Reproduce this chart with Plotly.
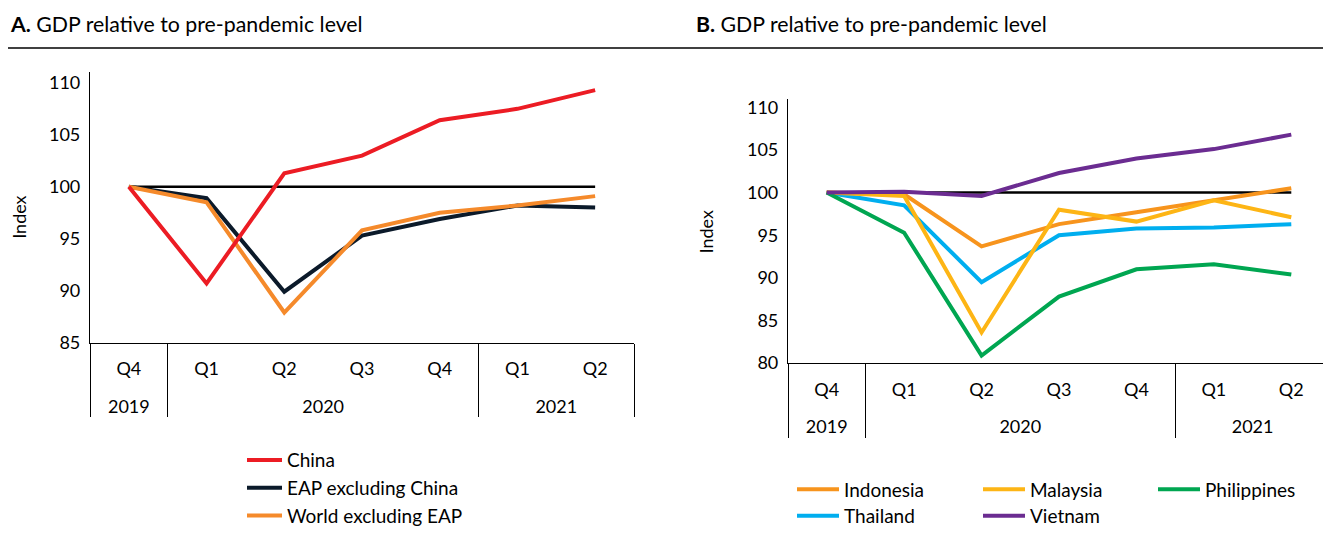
import plotly.graph_objects as go

# ---------------- data ----------------
years = ["2019", "2020", "2020", "2020", "2020", "2021", "2021"]
# the 2019 quarter carries a zero-width space so multicategory ordering keeps data order
quarters = ["Q4\u200b", "Q1", "Q2", "Q3", "Q4", "Q1", "Q2"]
baseline = [100, 100, 100, 100, 100, 100, 100]

china = [100, 90.7, 101.3, 103.0, 106.4, 107.5, 109.3]
eap_ex_china = [100, 98.9, 89.9, 95.3, 96.9, 98.2, 98.0]
world_ex_eap = [100, 98.5, 87.9, 95.8, 97.5, 98.2, 99.1]

indonesia = [100, 99.8, 93.7, 96.3, 97.7, 99.1, 100.5]
malaysia = [100, 99.6, 83.6, 98.0, 96.6, 99.1, 97.1]
philippines = [100, 95.3, 80.9, 87.8, 91.0, 91.6, 90.4]
thailand = [100, 98.5, 89.5, 95.0, 95.8, 95.9, 96.3]
vietnam = [100, 100.1, 99.6, 102.3, 104.0, 105.1, 106.8]

yticks_a = [85, 90, 95, 100, 105, 110]
yticks_b = [80, 85, 90, 95, 100, 105, 110]

# ---------------- style ----------------
OFF = 8               # default page body margin
W, H = 1331 - OFF, 538 - OFF
FONT = "Lato, DejaVu Sans Condensed, sans-serif"
TICKFONT = dict(family=FONT, size=18, color="black")
year_labels = ["<br>" + y for y in years]
x_cat = [year_labels, quarters]

fig = go.Figure()

def px_x(p):
    return (p - OFF) / W

def px_y(p):
    return (H - (p - OFF)) / H

# Panel A
fig.add_trace(go.Scatter(x=x_cat, y=baseline, mode="lines", line=dict(color="black", width=2.5),
                         showlegend=False, hoverinfo="skip", xaxis="x", yaxis="y"))
fig.add_trace(go.Scatter(x=x_cat, y=eap_ex_china, mode="lines", name="EAP excluding China",
                         line=dict(color="#0B1A2A", width=4), legendrank=2, legend="legend",
                         xaxis="x", yaxis="y"))
fig.add_trace(go.Scatter(x=x_cat, y=world_ex_eap, mode="lines", name="World excluding EAP",
                         line=dict(color="#F58A2B", width=4), legendrank=3, legend="legend",
                         xaxis="x", yaxis="y"))
fig.add_trace(go.Scatter(x=x_cat, y=china, mode="lines", name="China",
                         line=dict(color="#EC1C24", width=4), legendrank=1, legend="legend",
                         xaxis="x", yaxis="y"))

# Panel B
fig.add_trace(go.Scatter(x=x_cat, y=baseline, mode="lines", line=dict(color="black", width=2.5),
                         showlegend=False, hoverinfo="skip", xaxis="x2", yaxis="y2"))
panel_b = [
    ("Thailand", thailand, "#00AEEF", "legend5"),
    ("Indonesia", indonesia, "#F7941D", "legend2"),
    ("Malaysia", malaysia, "#FDB515", "legend3"),
    ("Philippines", philippines, "#00A651", "legend4"),
    ("Vietnam", vietnam, "#6B2C91", "legend6"),
]
for name, vals, col, lg in panel_b:
    fig.add_trace(go.Scatter(x=x_cat, y=vals, mode="lines", name=name,
                             line=dict(color=col, width=4), legend=lg,
                             xaxis="x2", yaxis="y2"))

xaxis_common = dict(
    type="multicategory", showline=True, linecolor="black", linewidth=1.2,
    ticks="", showgrid=False, zeroline=False, tickfont=TICKFONT, ticklabelstandoff=10,
    showdividers=True, dividercolor="black", dividerwidth=1.2, range=[-0.5, 6.5],
    fixedrange=True,
)
yaxis_common = dict(
    showline=True, linecolor="black", linewidth=1.2, ticks="", showgrid=False,
    zeroline=False, tickfont=TICKFONT, ticklabelstandoff=5, fixedrange=True,
)

LEGFONT = dict(family=FONT, size=19, color="black")

def leg(x, y, orient, iw):
    return dict(x=px_x(x), y=px_y(y), xanchor="left", yanchor="top", orientation=orient,
                font=LEGFONT, bgcolor="rgba(0,0,0,0)", itemwidth=iw)

fig.update_layout(
    width=W, height=H,
    margin=dict(l=0, r=0, t=0, b=0),
    paper_bgcolor="white", plot_bgcolor="white",
    font=dict(family=FONT, size=18, color="black"),
    xaxis=dict(domain=[px_x(90), px_x(634)], anchor="y", **xaxis_common),
    yaxis=dict(domain=[px_y(348), px_y(71)], anchor="x", range=[85, 111],
               tickvals=yticks_a, **yaxis_common),
    xaxis2=dict(domain=[px_x(788), px_x(1330)], anchor="y2", **xaxis_common),
    yaxis2=dict(domain=[px_y(369), px_y(98)], anchor="x2", range=[80, 111],
                tickvals=yticks_b, **yaxis_common),
    legend=leg(242, 449, "v", 35),
    legend2=leg(792, 479, "h", 42),
    legend3=leg(978, 479, "h", 42),
    legend4=leg(1153, 479, "h", 42),
    legend5=leg(792, 506, "h", 42),
    legend6=leg(978, 506, "h", 42),
    showlegend=True,
)

# titles
TITLEFONT = dict(family=FONT, size=21.3, color="black")
fig.add_annotation(text="<b>A.</b> GDP relative to pre-pandemic level", xref="paper", yref="paper",
                   x=px_x(8), y=px_y(21), xanchor="left", yanchor="middle", showarrow=False,
                   font=TITLEFONT)
fig.add_annotation(text="<b>B.</b> GDP relative to pre-pandemic level", xref="paper", yref="paper",
                   x=px_x(694), y=px_y(21), xanchor="left", yanchor="middle", showarrow=False,
                   font=TITLEFONT)
fig.add_shape(type="line", xref="paper", yref="paper", x0=px_x(8), x1=1, y0=px_y(46), y1=px_y(46),
              line=dict(color="black", width=1.5))

# axis titles
fig.add_annotation(text="Index", xref="paper", yref="paper", x=px_x(19), y=px_y(220),
                   textangle=-90, showarrow=False, xanchor="center", yanchor="middle",
                   font=dict(family=FONT, size=18, color="black"))
fig.add_annotation(text="Index", xref="paper", yref="paper", x=px_x(706), y=px_y(235),
                   textangle=-90, showarrow=False, xanchor="center", yanchor="middle",
                   font=dict(family=FONT, size=18, color="black"))

fig.write_html("out.html")
